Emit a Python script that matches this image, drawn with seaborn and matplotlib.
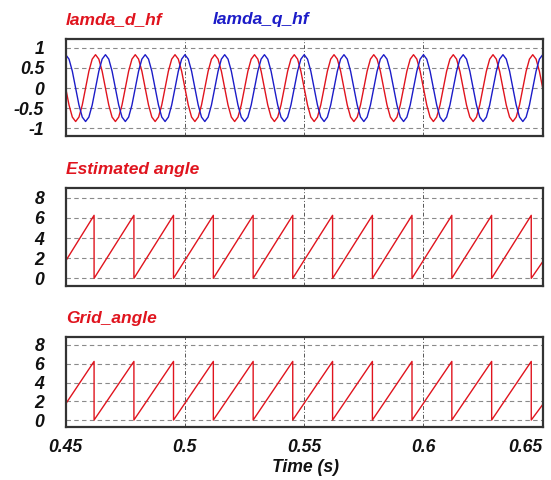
import numpy as np
import matplotlib
matplotlib.use("Agg")
import matplotlib.pyplot as plt
import seaborn as sns

# ---- data (60 Hz signals, 0.45 s .. 0.65 s) ----
# high-frequency flux components, one sample every 30 deg
lamda_d_hf = [
    0, -0.42, -0.72, -0.83, -0.72, -0.42, 0, 0.42, 0.72, 0.83, 0.72, 0.42,
    0, -0.42, -0.72, -0.83, -0.72, -0.42, 0, 0.42, 0.72, 0.83, 0.72, 0.42,
    0, -0.42, -0.72, -0.83, -0.72, -0.42, 0, 0.42, 0.72, 0.83, 0.72, 0.42,
    0, -0.42, -0.72, -0.83, -0.72, -0.42, 0, 0.42, 0.72, 0.83, 0.72, 0.42,
    0, -0.42, -0.72, -0.83, -0.72, -0.42, 0, 0.42, 0.72, 0.83, 0.72, 0.42,
    0, -0.42, -0.72, -0.83, -0.72, -0.42, 0, 0.42, 0.72, 0.83, 0.72, 0.42,
    0, -0.42, -0.72, -0.83, -0.72, -0.42, 0, 0.42, 0.72, 0.83, 0.72, 0.42,
    0, -0.42, -0.72, -0.83, -0.72, -0.42, 0, 0.42, 0.72, 0.83, 0.72, 0.42,
    0, -0.42, -0.72, -0.83, -0.72, -0.42, 0, 0.42, 0.72, 0.83, 0.72, 0.42,
    0, -0.42, -0.72, -0.83, -0.72, -0.42, 0, 0.42, 0.72, 0.83, 0.72, 0.42,
    0, -0.42, -0.72, -0.83, -0.72, -0.42, 0, 0.42, 0.72, 0.83, 0.72, 0.42,
    0, -0.42, -0.72, -0.83, -0.72, -0.42, 0, 0.42, 0.72, 0.83, 0.72, 0.42,
    0,
]
lamda_q_hf = [
    0.83, 0.72, 0.42, 0, -0.42, -0.72, -0.83, -0.72, -0.42, 0, 0.42, 0.72,
    0.83, 0.72, 0.42, 0, -0.42, -0.72, -0.83, -0.72, -0.42, 0, 0.42, 0.72,
    0.83, 0.72, 0.42, 0, -0.42, -0.72, -0.83, -0.72, -0.42, 0, 0.42, 0.72,
    0.83, 0.72, 0.42, 0, -0.42, -0.72, -0.83, -0.72, -0.42, 0, 0.42, 0.72,
    0.83, 0.72, 0.42, 0, -0.42, -0.72, -0.83, -0.72, -0.42, 0, 0.42, 0.72,
    0.83, 0.72, 0.42, 0, -0.42, -0.72, -0.83, -0.72, -0.42, 0, 0.42, 0.72,
    0.83, 0.72, 0.42, 0, -0.42, -0.72, -0.83, -0.72, -0.42, 0, 0.42, 0.72,
    0.83, 0.72, 0.42, 0, -0.42, -0.72, -0.83, -0.72, -0.42, 0, 0.42, 0.72,
    0.83, 0.72, 0.42, 0, -0.42, -0.72, -0.83, -0.72, -0.42, 0, 0.42, 0.72,
    0.83, 0.72, 0.42, 0, -0.42, -0.72, -0.83, -0.72, -0.42, 0, 0.42, 0.72,
    0.83, 0.72, 0.42, 0, -0.42, -0.72, -0.83, -0.72, -0.42, 0, 0.42, 0.72,
    0.83, 0.72, 0.42, 0, -0.42, -0.72, -0.83, -0.72, -0.42, 0, 0.42, 0.72,
    0.83,
]
hf_t = np.linspace(0.45, 0.65, len(lamda_d_hf))  # sample instants

# sawtooth angles: corner points (wrap from top back to 0)
reset_t = [0.4619, 0.4786, 0.4952, 0.5119, 0.5286, 0.5452,
           0.5619, 0.5786, 0.5952, 0.6119, 0.6286, 0.6452]
angle_start = 1.72
angle_end = 1.65
angle_top = 6.25

est_t = [0.45]
est_v = [angle_start]
for rt in reset_t:
    est_t += [rt, rt]
    est_v += [angle_top, 0.0]
est_t.append(0.65)
est_v.append(angle_end)
grid_t = list(est_t)
grid_v = list(est_v)

x_ticks = [0.45, 0.5, 0.55, 0.6, 0.65]
x_labels = ["0.45", "0.5", "0.55", "0.6", "0.65"]

# ---- style ----
sns.set_theme(style="white")
plt.rcParams["font.family"] = ["Liberation Sans", "DejaVu Sans"]

RED = "#e0141e"
BLUE = "#1c1cc8"
INK = "#111111"
fnt = dict(weight="bold", style="italic", size=12.7, color=INK)

W, H = 551, 480
fig = plt.figure(figsize=(W / 100, H / 100), dpi=100)
L, R = 65.7 / W, 542.7 / W
boxes = [(39, 136), (188.3, 286), (337.3, 426.7)]  # top, bottom in px
axes = [fig.add_axes([L, 1 - b / H, R - L, (b - t) / H]) for t, b in boxes]

sns.lineplot(x=hf_t, y=lamda_d_hf, ax=axes[0], color=RED, lw=1.0,
             estimator=None, sort=False)
sns.lineplot(x=hf_t, y=lamda_q_hf, ax=axes[0], color=BLUE, lw=1.0,
             estimator=None, sort=False)
sns.lineplot(x=est_t, y=est_v, ax=axes[1], color=RED, lw=1.0,
             estimator=None, sort=False)
sns.lineplot(x=grid_t, y=grid_v, ax=axes[2], color=RED, lw=1.0,
             estimator=None, sort=False)

ylims = [(-1.19, 1.22), (-0.76, 8.93), (-0.71, 8.82)]
yticks = [[-1, -0.5, 0, 0.5, 1], [0, 2, 4, 6, 8], [0, 2, 4, 6, 8]]
ylabels = [["-1", "-0.5", "0", "0.5", "1"],
           ["0", "2", "4", "6", "8"], ["0", "2", "4", "6", "8"]]

for ax, yl, yt, ylab in zip(axes, ylims, yticks, ylabels):
    ax.set_xlim(0.45, 0.65)
    ax.set_ylim(*yl)
    ax.set_yticks(yt)
    ax.set_yticklabels(ylab, **fnt)
    ax.set_xticks(x_ticks)
    ax.set_xticklabels([])
    ax.tick_params(length=0, pad=15.5)
    ax.grid(True, axis="y", color="#8a8a8a", linestyle=(0, (4, 3)), linewidth=0.8)
    ax.grid(True, axis="x", color="#555555", linestyle=(0, (4, 2, 1, 2)), linewidth=0.7)
    for sp in ax.spines.values():
        sp.set_color("#333333")
        sp.set_linewidth(1.6)
    ax.set_xlabel("")
    ax.set_ylabel("")

axes[2].set_xticklabels(x_labels, **fnt)
axes[2].tick_params(axis="x", pad=9)
axes[2].get_xticklabels()[-1].set_ha("right")

fig.text(306 / W, 1 - 467 / H, "Time (s)", ha="center", va="center", **fnt)

tfnt = dict(weight="bold", style="italic", size=12.5, va="baseline")
fig.text(L, 1 - 24 / H, "lamda_d_hf", color=RED, **tfnt)
fig.text(213 / W, 1 - 24 / H, "lamda_q_hf", color=BLUE, **tfnt)
fig.text(L, 1 - 174 / H, "Estimated angle", color=RED, **tfnt)
fig.text(L, 1 - 323 / H, "Grid_angle", color=RED, **tfnt)

fig.savefig("out.png", dpi=100, facecolor="white")
